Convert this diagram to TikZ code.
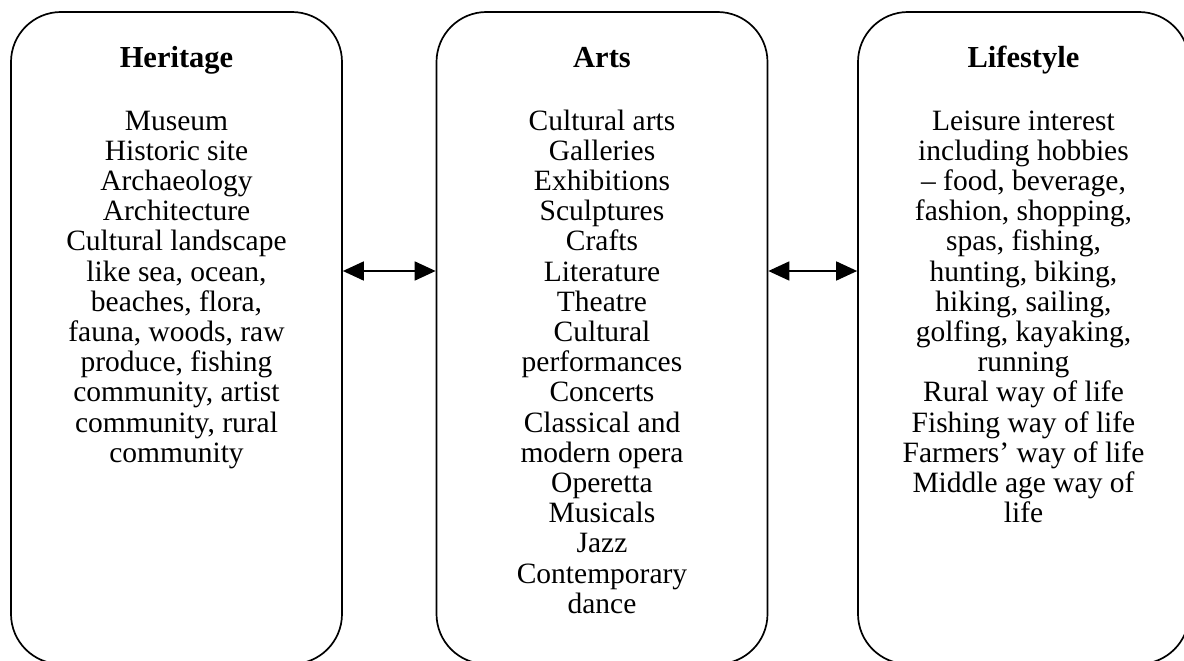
\documentclass[tikz,border=0pt]{standalone}
\usepackage{fontspec}
\setmainfont{Liberation Serif}
\usetikzlibrary{arrows.meta}
\begin{document}
\begin{tikzpicture}[x=1pt,y=-1pt,
  box/.style={draw=black, line width=1.7pt, rounded corners=50pt, minimum width=331pt, minimum height=652pt, inner sep=0pt},
  ttl/.style={font=\fontsize{30.5}{30}\selectfont\bfseries, anchor=base, inner sep=0pt},
  body/.style={font=\fontsize{29.5}{30.2}\selectfont, align=center, anchor=base, inner sep=0pt},
  link/.style={line width=1.7pt, {Triangle[length=21pt,width=19pt]}-{Triangle[length=21pt,width=19pt]}}]
\useasboundingbox (0,0) rectangle (1184,661);
\clip (0,0) rectangle (1184,661);
\node[box] (h) at (176.5,338) {};
\node[box] (a) at (602,338) {};
\node[box] (l) at (1023.5,338) {};
\node[ttl] (ht) at (176.5,68) {Heritage};
\node[ttl] (at) at (602,68) {Arts};
\node[ttl] (lt) at (1023.5,68) {Lifestyle};
\node[body] (hb) at (176.5,462.2) {Museum\\Historic site\\Archaeology\\Architecture\\Cultural landscape\\like sea, ocean,\\beaches, flora,\\fauna, woods, raw\\produce, fishing\\community, artist\\community, rural\\community};
\node[body] (ab) at (602,613.2) {Cultural arts\\Galleries\\Exhibitions\\Sculptures\\Crafts\\Literature\\Theatre\\Cultural\\performances\\Concerts\\Classical and\\modern opera\\Operetta\\Musicals\\Jazz\\Contemporary\\dance};
\node[body] (lb) at (1023.5,522.6) {Leisure interest\\including hobbies\\– food, beverage,\\fashion, shopping,\\spas, fishing,\\hunting, biking,\\hiking, sailing,\\golfing, kayaking,\\running\\Rural way of life\\Fishing way of life\\Farmers’ way of life\\Middle age way of\\life};
\coordinate (ay) at (0,271);
\draw[link] (h.east |- ay) -- (a.west |- ay);
\draw[link] (a.east |- ay) -- (l.west |- ay);
\end{tikzpicture}
\end{document}
